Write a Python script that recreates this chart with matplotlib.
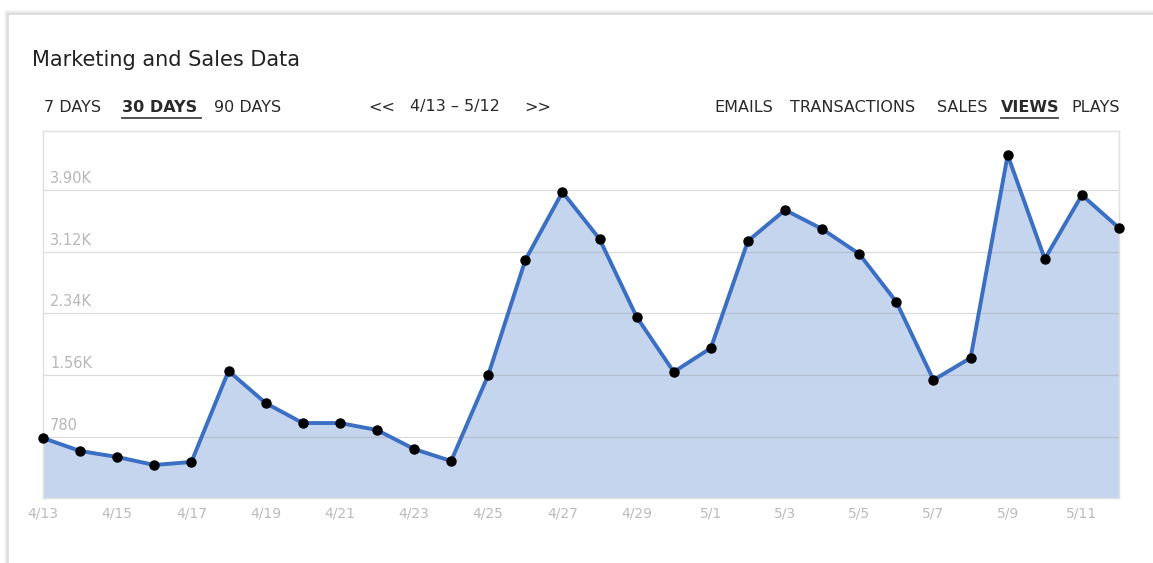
"""
views over the last 30 days, dashboard style area chart
"""
import matplotlib
matplotlib.use('Agg')
import matplotlib.pyplot as plt
from matplotlib.patches import Rectangle
from matplotlib.lines import Line2D

# --- data
days = ['4/13', '4/14', '4/15', '4/16', '4/17', '4/18', '4/19', '4/20', '4/21', '4/22',
        '4/23', '4/24', '4/25', '4/26', '4/27', '4/28', '4/29', '4/30', '5/1', '5/2',
        '5/3', '5/4', '5/5', '5/6', '5/7', '5/8', '5/9', '5/10', '5/11', '5/12']
views = [763, 599, 523, 422, 460, 1612, 1206, 953, 953, 865,
         624, 472, 1561, 3017, 3878, 3283, 2296, 1600, 1903, 3258,
         3650, 3409, 3093, 2486, 1498, 1777, 4346, 3030, 3840, 3422]
ytick_vals = [780, 1560, 2340, 3120, 3900]
ytick_labels = ['780', '1.56K', '2.34K', '3.12K', '3.90K']

W, H = 1153, 563
def fx(px): return px / W
def fy(py): return 1 - py / H

fig = plt.figure(figsize=(W / 100, H / 100), dpi=100)
fig.patch.set_facecolor('white')

# card with a soft shadow
for i, c in enumerate(['#f7f7f7', '#eeeeee', '#e4e4e4', '#dadada']):
    fig.add_artist(Rectangle((fx(5 + i), fy(H + 20)), 1.2, fy(11 + i) - fy(H + 20),
                             transform=fig.transFigure, facecolor='none',
                             edgecolor=c, lw=1.2, zorder=0))
fig.add_artist(Rectangle((fx(9), fy(H + 20)), 1.2, fy(15) - fy(H + 20),
                         transform=fig.transFigure, facecolor='white',
                         edgecolor='none', zorder=0))

# --- header
fig.text(fx(32), fy(60), 'Marketing and Sales Data', fontsize=15, color='#222222',
         va='center', ha='left')

def nav(x, s, bold=False):
    fig.text(fx(x), fy(107), s, fontsize=11.5, color='#2a2a2a', va='center', ha='left',
             fontweight='bold' if bold else 'normal')

nav(44, '7 DAYS')
nav(122, '30 DAYS', bold=True)
nav(214, '90 DAYS')
nav(368, '<<')
nav(410, '4/13 \u2013 5/12')
nav(524, '>>')
nav(714, 'EMAILS')
nav(790, 'TRANSACTIONS')
nav(937, 'SALES')
nav(1001, 'VIEWS', bold=True)
nav(1071, 'PLAYS')
for x0, x1 in [(122, 201), (1001, 1058)]:
    fig.add_artist(Line2D([fx(x0), fx(x1)], [fy(118), fy(118)], transform=fig.transFigure,
                          color='#444444', lw=1.3))

# --- plot
ax = fig.add_axes([fx(43), fy(498.3), fx(1119) - fx(43), fy(131) - fy(498.3)])
x = list(range(len(days)))
ax.fill_between(x, views, 0, color='#c5d5ee', zorder=1, lw=0)
ax.plot(x, views, '-', color='#3a6fc4', lw=2.8, zorder=3, clip_on=False)
ax.plot(x, views, 'o', color='black', ms=6.5, zorder=4, clip_on=False)
for v in ytick_vals:
    ax.axhline(v, color='#8a8a8a', lw=0.9, alpha=0.3, zorder=2)
ax.set_xlim(0, len(days) - 1)
ax.set_ylim(0, 4650)
ax.set_xticks([])
ax.set_yticks([])
for s in ax.spines.values():
    s.set_color('#e0e0e0')
    s.set_linewidth(1)

for v, lab in zip(ytick_vals, ytick_labels):
    ax.annotate(lab, (0, v), xytext=(5, 3), textcoords='offset points', fontsize=10.5,
                color='#b8b8b8', ha='left', va='bottom', zorder=5)
for i in range(0, len(days), 2):
    ax.annotate(days[i], (i, 0), xytext=(0, -6), textcoords='offset points', fontsize=10,
                color='#bbbbbb', ha='center', va='top', annotation_clip=False)

fig.savefig('out.png', dpi=100, facecolor=fig.get_facecolor())
